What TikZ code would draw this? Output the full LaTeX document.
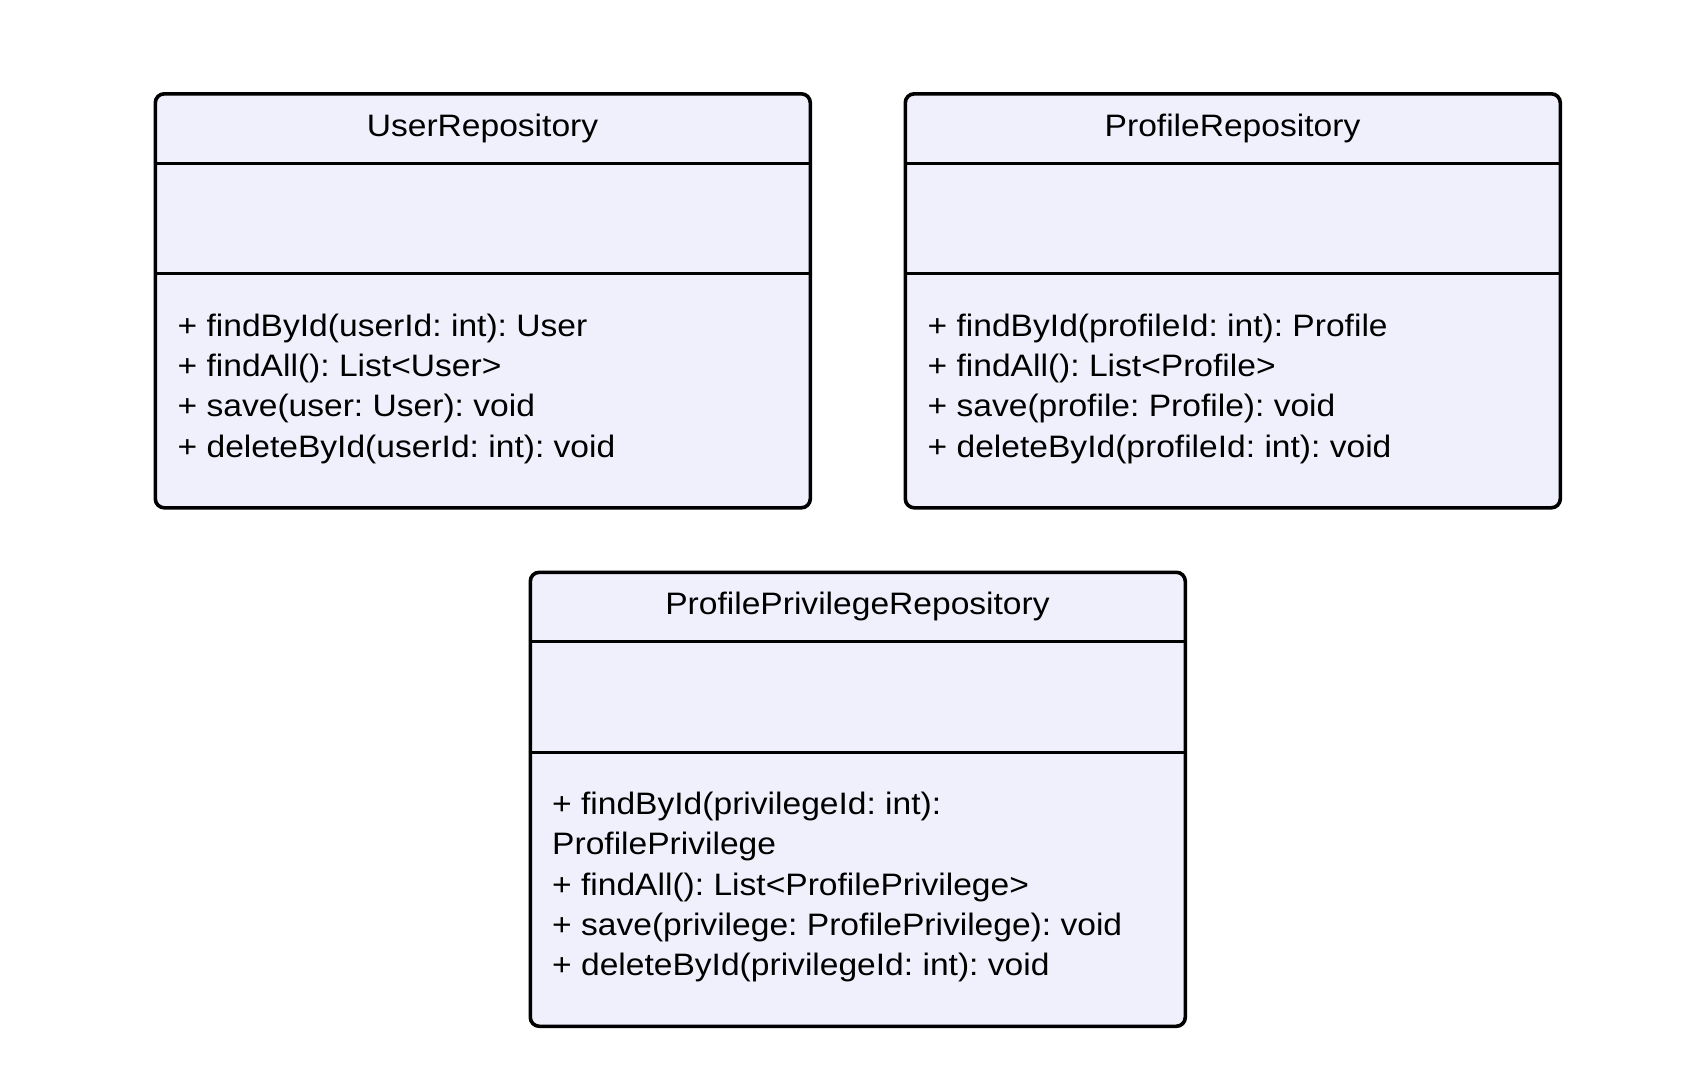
\documentclass[tikz,border=0pt]{standalone}
\usepackage{fontspec}
\setmainfont{Liberation Sans}[FakeStretch=1.083]
\frenchspacing
\definecolor{classfill}{HTML}{F0F0FC}
\begin{document}
\begin{tikzpicture}[x=1pt,y=-1pt,
  classbox/.style={draw=black, line width=3.6pt, fill=classfill, rounded corners=9pt,
    minimum width=655pt, inner sep=0pt, anchor=north west},
  divider/.style={draw=black, line width=3.1pt},
  title/.style={anchor=base, inner sep=0pt, font=\fontsize{31}{40}\selectfont},
  member/.style={anchor=base west, inner sep=0pt, font=\fontsize{31}{40}\selectfont}]
\useasboundingbox (0,0) rectangle (1699,1082);

% UserRepository
\node[classbox, minimum height=414pt] (user) at (153.5,92) {};
\draw[divider] ([yshift=-71.5pt]user.north west) -- ([yshift=-71.5pt]user.north east);
\draw[divider] ([yshift=-181.5pt]user.north west) -- ([yshift=-181.5pt]user.north east);
\node[title] (usert) at (482.5,136) {UserRepository};
\node[member] (u1) at (177.5,336) {+ findById(userId: int): User};
\node[member] (u2) at (177.5,376.3) {+ findAll(): List<User>};
\node[member] (u3) at (177.5,416.7) {+ save(user: User): void};
\node[member] (u4) at (177.5,457) {+ deleteById(userId: int): void};

% ProfileRepository
\node[classbox, minimum height=414pt] (prof) at (903.5,92) {};
\draw[divider] ([yshift=-71.5pt]prof.north west) -- ([yshift=-71.5pt]prof.north east);
\draw[divider] ([yshift=-181.5pt]prof.north west) -- ([yshift=-181.5pt]prof.north east);
\node[title] (proft) at (1232.5,136) {ProfileRepository};
\node[member] (p1) at (927.5,336) {+ findById(profileId: int): Profile};
\node[member] (p2) at (927.5,376.3) {+ findAll(): List<Profile>};
\node[member] (p3) at (927.5,416.7) {+ save(profile: Profile): void};
\node[member] (p4) at (927.5,457) {+ deleteById(profileId: int): void};

% ProfilePrivilegeRepository
\node[classbox, minimum height=454pt] (priv) at (528.5,570.5) {};
\draw[divider] ([yshift=-71pt]priv.north west) -- ([yshift=-71pt]priv.north east);
\draw[divider] ([yshift=-182pt]priv.north west) -- ([yshift=-182pt]priv.north east);
\node[title] (privt) at (857.5,614.5) {ProfilePrivilegeRepository};
\node[member] (v1) at (552,814.5) {+ findById(privilegeId: int):};
\node[member] (v2) at (552,854.8) {ProfilePrivilege};
\node[member] (v3) at (552,895) {+ findAll(): List<ProfilePrivilege>};
\node[member] (v4) at (552,935.3) {+ save(privilege: ProfilePrivilege): void};
\node[member] (v5) at (552,975.5) {+ deleteById(privilegeId: int): void};
\end{tikzpicture}
\end{document}
